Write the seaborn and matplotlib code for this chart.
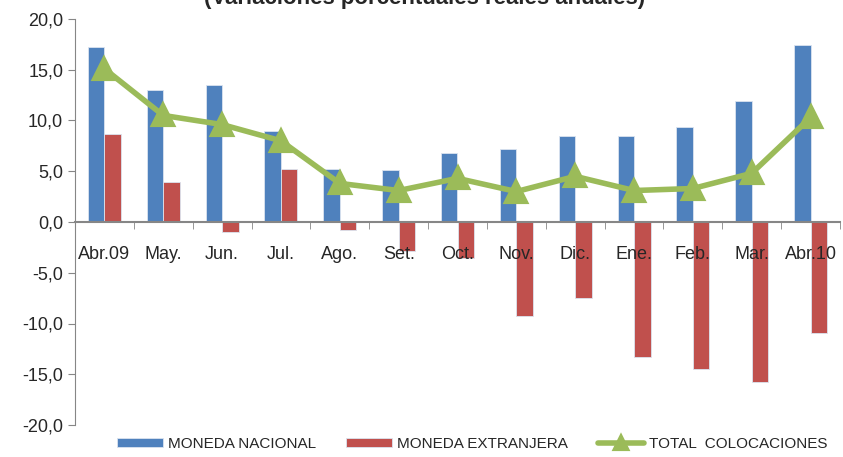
import numpy as np
import pandas as pd
from matplotlib import pyplot as plt
from matplotlib.ticker import FixedLocator, FuncFormatter
import seaborn as sns

meses = ["Abr.09", "May.", "Jun.", "Jul.", "Ago.", "Set.", "Oct.",
         "Nov.", "Dic.", "Ene.", "Feb.", "Mar.", "Abr.10"]
moneda_nacional = [17.2, 13.0, 13.5, 9.0, 5.2, 5.1, 6.8, 7.2, 8.5, 8.5, 9.4, 11.9, 17.4]
moneda_extranjera = [8.7, 3.9, -1.0, 5.2, -0.8, -2.9, -3.5, -9.3, -7.5, -13.3, -14.5, -15.8, -10.9]
total_colocaciones = [15.1, 10.5, 9.6, 8.0, 3.8, 3.1, 4.3, 3.0, 4.5, 3.1, 3.3, 4.8, 10.3]

series_names = ["MONEDA NACIONAL", "MONEDA EXTRANJERA", "TOTAL  COLOCACIONES"]
titulo = "(Variaciones porcentuales reales anuales)"

sns.set_style("white")
plt.rcParams["font.family"] = ["Liberation Sans", "DejaVu Sans"]

df = pd.DataFrame({
    "mes": meses * 2,
    "valor": moneda_nacional + moneda_extranjera,
    "serie": [series_names[0]] * len(meses) + [series_names[1]] * len(meses),
})

fig = plt.figure(figsize=(8.43, 4.57), dpi=100)
ax = fig.add_axes([75 / 843, 1 - 425 / 457, 765 / 843, 406 / 457])

sns.barplot(
    data=df, x="mes", y="valor", hue="serie", order=meses,
    palette=["#4F81BD", "#C0504D"], width=0.56, saturation=1,
    edgecolor="#dbe4f0", linewidth=0.6, ax=ax,
)
sns.pointplot(
    x=meses, y=total_colocaciones, color="#9BBB59", markers="^",
    markersize=14, linewidth=4, label=series_names[2], ax=ax,
)

ax.set_ylim(-20, 20)
ax.set_xlim(-0.5, len(meses) - 0.5)
ax.set_xlabel("")
ax.set_ylabel("")
ax.set_yticks(np.arange(-20, 21, 5))
ax.yaxis.set_major_formatter(FuncFormatter(lambda v, p: f"{v:.1f}".replace(".", ",")))
ax.set_axisbelow(False)

for s in ["top", "right"]:
    ax.spines[s].set_visible(False)
ax.spines["left"].set_color("#868686")
ax.spines["bottom"].set_color("#868686")
ax.spines["bottom"].set_linewidth(1.5)
ax.spines["bottom"].set_position(("data", 0))

ax.xaxis.set_minor_locator(FixedLocator(np.arange(-0.5, len(meses), 1)))
ax.tick_params(axis="x", which="major", length=0, pad=17, labelsize=13)
ax.tick_params(axis="x", which="minor", length=5, color="#868686", direction="out", bottom=True)
ax.tick_params(axis="y", length=5, color="#868686", direction="out", labelsize=13, left=True)

handles, labels = ax.get_legend_handles_labels()
if ax.legend_:
    ax.legend_.remove()
fig.legend(
    handles, labels, loc="center", bbox_to_anchor=(0.56, 1 - 444 / 457),
    ncol=3, frameon=False, fontsize=11, handlelength=3.0, handleheight=0.45,
    columnspacing=2.0, handletextpad=0.3, markerscale=0.6,
)

fig.text(0.504, 1 - 4 / 457, titulo, ha="center", va="baseline",
         fontsize=16, fontweight="bold")

plt.savefig("out.png", dpi=100)
